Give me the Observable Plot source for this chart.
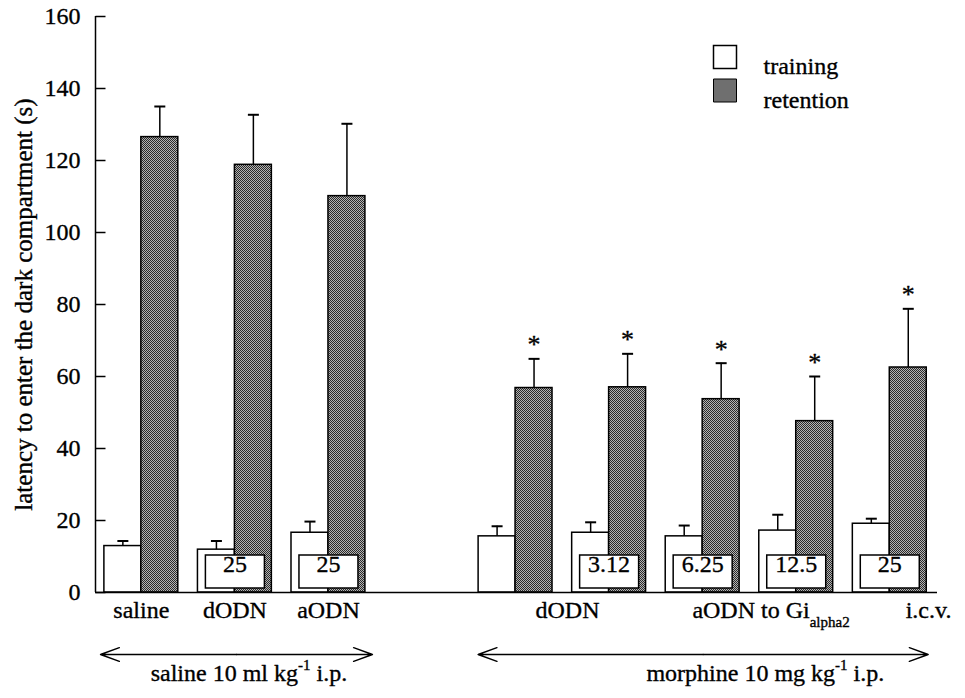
<!DOCTYPE html>
<html><head><meta charset="utf-8">
<script src="https://cdn.jsdelivr.net/npm/d3@7"></script>
<script src="https://cdn.jsdelivr.net/npm/@observablehq/plot@0.6"></script>
<style>body{margin:0;background:#fff}</style>
</head><body><div id="chart"></div>
<script>
// ---- data ----
const treatments = ["saline", "dODN", "aODN", "morphine", "morphine + aODN", "morphine + aODN", "morphine + aODN", "morphine + aODN"];
const doseLabels = ["", "25", "25", "", "3.12", "6.25", "12.5", "25"];
const trainingMean = [12.9, 11.9, 16.6, 15.6, 16.6, 15.6, 17.2, 19.1];
const trainingSEM  = [1.4, 2.4, 3.1, 2.8, 2.9, 3.0, 4.4, 1.4];
const retentionMean = [126.5, 118.8, 110.1, 56.8, 57.0, 53.7, 47.6, 62.5];
const retentionSEM  = [8.5, 13.9, 20.1, 8.1, 9.3, 10.0, 12.4, 16.3];
const significant = [false, false, false, true, true, true, true, true];
const seriesNames = ["training", "retention"];
const yTicks = [0, 20, 40, 60, 80, 100, 120, 140, 160];
const yLabel = "latency to enter the dark compartment (s)";
const categoryLabels = ["saline", "dODN", "aODN", "dODN"];
const routeLabels = ["aODN to Gi_{alpha2}", "i.c.v."];
const groupLabels = ["saline 10 ml kg^{-1} i.p.", "morphine 10 mg kg^{-1} i.p."];

// ---- layout helpers ----
const slotOf = i => (i < 3 ? i : i + 1);   // gap between the two treatment blocks
const barW = 0.395;
const xDomain = [-0.49, 8.51];
const FONT = "'Liberation Serif', 'Times New Roman', serif";

const rows = treatments.flatMap((t, i) => [
  {i, series: seriesNames[0], mean: trainingMean[i], sem: trainingSEM[i], sig: false},
  {i, series: seriesNames[1], mean: retentionMean[i], sem: retentionSEM[i], sig: significant[i]}
]);
const isTr = d => d.series === seriesNames[0];
const bx1 = d => slotOf(d.i) + (isTr(d) ? -barW : 0);
const bx2 = d => slotOf(d.i) + (isTr(d) ? 0 : barW);
const bxc = d => slotOf(d.i) + (isTr(d) ? -barW / 2 : barW / 2);
const errTop = d => d.mean + d.sem;

const boxes = doseLabels.map((label, i) => ({i, label})).filter(d => d.label);
const catPos = [0, 1, 2, 4.555];
const routePos = [5.89, 8.17];
const groupPos = [1.15, 6.67];
const arrowSpans = [[-0.436, 2.47], [3.60, 8.41]];
const arrows = arrowSpans.flatMap(([a, b]) => [{from: (a + b) / 2, to: a}, {from: (a + b) / 2, to: b}]);

const capSym = {draw(ctx) { ctx.moveTo(-5.5, 0); ctx.lineTo(5.5, 0); }};
const tickSym = {draw(ctx) { ctx.moveTo(0, 0); ctx.lineTo(10, 0); }};
const boxSym = {draw(ctx) { ctx.rect(-29.5, -16.5, 59, 33); }};
const swatchSym = {draw(ctx) { ctx.rect(-11.5, -11.5, 23, 23); }};
const ink = {fill: "black", stroke: "black", strokeWidth: 0.35};

const svg = Plot.plot({
  width: 965,
  height: 698,
  marginTop: 16,
  marginBottom: 106,
  marginLeft: 95,
  marginRight: 28,
  style: {fontFamily: FONT, fontSize: "24px", color: "black", background: "white"},
  x: {domain: xDomain, axis: null},
  y: {domain: [0, 160], axis: null},
  marks: [
    Plot.rect(rows.filter(isTr), {x1: bx1, x2: bx2, y1: 0, y2: "mean", fill: "white", stroke: "black", strokeWidth: 1.5}),
    Plot.rect(rows.filter(d => !isTr(d)), {x1: bx1, x2: bx2, y1: 0, y2: "mean", fill: "url(#stipple)", stroke: "black", strokeWidth: 1.5}),
    Plot.ruleX(rows, {x: bxc, y1: "mean", y2: errTop, stroke: "black", strokeWidth: 1.5}),
    Plot.dot(rows, {x: bxc, y: errTop, symbol: capSym, fill: "none", stroke: "black", strokeWidth: 2}),
    Plot.text(rows.filter(d => d.sig), {x: bxc, y: errTop, text: () => "*", dy: -14, fontSize: 26, ...ink}),
    Plot.dot(boxes, {x: d => slotOf(d.i), frameAnchor: "bottom", dy: -21, symbol: boxSym, fill: "white", stroke: "black", strokeWidth: 1.5}),
    Plot.text(boxes, {x: d => slotOf(d.i), frameAnchor: "bottom", dy: -21, text: "label", fontSize: 24, ...ink}),
    Plot.ruleX([xDomain[0]], {y1: 0, y2: 160, stroke: "black", strokeWidth: 1.5}),
    Plot.ruleY([0], {stroke: "black", strokeWidth: 1.5}),
    Plot.dot(yTicks, {y: d => d, frameAnchor: "left", symbol: tickSym, stroke: "black", strokeWidth: 1.5}),
    Plot.axisY({ticks: yTicks, tickSize: 0, tickPadding: 15, label: null, fontSize: 24}),
    Plot.text([yLabel], {frameAnchor: "left", dx: -72, rotate: -90, textAnchor: "middle", text: d => d, fontSize: 25, ...ink}),
    Plot.text(categoryLabels, {x: (d, i) => catPos[i], frameAnchor: "bottom", dy: 25, text: d => d, fontSize: 24, ...ink}),
    Plot.text(routeLabels, {x: (d, i) => routePos[i], frameAnchor: "bottom", dy: 25, text: d => d, textAnchor: "start", fontSize: 24, ...ink}),
    Plot.arrow(arrows, {x1: "from", x2: "to", y1: 0, y2: 0, dy: 62, headLength: 20, headAngle: 40, stroke: "black", strokeWidth: 1.5}),
    Plot.text(groupLabels, {x: (d, i) => groupPos[i], frameAnchor: "bottom", dy: 88, text: d => d, fontSize: 24, ...ink}),
    // legend
    Plot.dot([seriesNames[0]], {frameAnchor: "top-right", dx: -212.5, dy: 40.5, symbol: swatchSym, fill: "white", stroke: "black", strokeWidth: 1.5}),
    Plot.dot([seriesNames[1]], {frameAnchor: "top-right", dx: -212.5, dy: 74, symbol: swatchSym, fill: "url(#stipple)", stroke: "black", strokeWidth: 1}),
    Plot.text([seriesNames[0]], {frameAnchor: "top-right", dx: -174, dy: 40.5, text: d => d, textAnchor: "start", fontSize: 24, ...ink}),
    Plot.text([seriesNames[1]], {frameAnchor: "top-right", dx: -174, dy: 74, text: d => d, textAnchor: "start", fontSize: 24, ...ink})
  ]
});

// stipple pattern for retention bars
const defs = d3.select(svg).insert("defs", ":first-child");
const pat = defs.append("pattern").attr("id", "stipple").attr("width", 2).attr("height", 2).attr("patternUnits", "userSpaceOnUse");
pat.append("rect").attr("width", 2).attr("height", 2).attr("fill", "#b4b4b4");
pat.append("rect").attr("width", 1).attr("height", 1).attr("fill", "#2a2a2a");
pat.append("rect").attr("x", 1).attr("y", 1).attr("width", 1).attr("height", 1).attr("fill", "#2a2a2a");

// heavier tick labels like the printed original
d3.select(svg).selectAll("[aria-label='y-axis tick label']")
  .attr("fill", "black").attr("stroke", "black").attr("stroke-width", 0.35);

// superscripts / subscripts
d3.select(svg).selectAll("text").each(function () {
  const s = this.textContent;
  if (!/[\^_]\{/.test(s)) return;
  const parts = s.split(/([\^_]\{[^}]*\})/);
  this.textContent = "";
  let shift = 0;
  for (const p of parts) {
    if (!p) continue;
    const ts = d3.select(this).append("tspan");
    if (p.startsWith("^{")) { ts.text(p.slice(2, -1)).attr("font-size", 15).attr("dy", -11 - shift); shift = -11; }
    else if (p.startsWith("_{")) { ts.text(p.slice(2, -1)).attr("font-size", 15).attr("dy", 9 - shift); shift = 9; }
    else { ts.text(p).attr("dy", -shift); shift = 0; }
  }
});

document.getElementById("chart").appendChild(svg);
</script></body></html>
